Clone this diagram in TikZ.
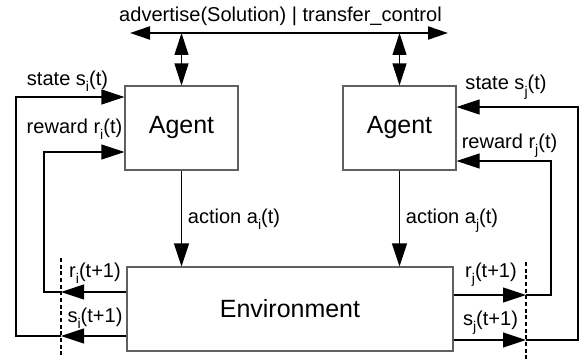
\documentclass[tikz,border=0pt]{standalone}
\usepackage{fontspec}
\setmainfont{Liberation Sans}
\usetikzlibrary{arrows.meta}
\newcommand{\ix}[1]{\raisebox{-0.32em}{\fontsize{8}{8}\selectfont #1}}
\tikzset{box/.style={draw=gray!75!black,line width=0.6pt,minimum width=22.6mm,minimum height=16.8mm,font=\fontsize{14.2}{17}\selectfont},
         envbox/.style={box,minimum width=65.2mm},
         lbl/.style={anchor=base,inner sep=0pt,font=\fontsize{11.4}{13}\selectfont},
         arr/.style={line width=0.6pt,-{Triangle[length=4.6mm,width=3mm]}},
         darr/.style={line width=0.6pt,{Triangle[length=4.4mm,width=2.8mm]}-{Triangle[length=4.4mm,width=2.8mm]}},
         bus/.style={line width=1.2pt,{Triangle[length=4mm,width=2.6mm]}-{Triangle[length=4mm,width=2.6mm]}},
         cutline/.style={line width=0.6pt,dash pattern=on 2.2pt off 1.6pt}}

\begin{document}
\begin{tikzpicture}
        \useasboundingbox (0,0) rectangle (11.64,7.24);

        \node[box](agentI)at(3.63,4.68){Agent};
        \node[box](agentJ)at(7.99,4.68){Agent};
        \node[envbox](env)at(5.8,1.06){Environment};

        \coordinate(busL)at(2.6,6.58);
        \coordinate(busR)at(8.96,6.58);
        \node[lbl](busT)at(5.61,6.8){advertise(Solution) | transfer\_control};

        \coordinate(sIcut)at(1.22,0.52);
        \coordinate(rIcut)at(1.22,1.4);
        \coordinate(sIrail)at(0.32,5.3);
        \coordinate(rIrail)at(0.88,4.2);
        \coordinate(cutIup)at(1.22,2.08);
        \coordinate(cutIdn)at(1.22,0.1);

        \coordinate(sJcut)at(10.52,0.44);
        \coordinate(rJcut)at(10.52,1.34);
        \coordinate(sJrail)at(11.56,5.1);
        \coordinate(rJrail)at(11.02,4.02);
        \coordinate(cutJup)at(10.52,2.0);
        \coordinate(cutJdn)at(10.52,0.0);

        \node[lbl](stI)at(1.35,5.54){state s\ix{i}(t)};
        \node[lbl](rwI)at(1.49,4.58){reward r\ix{i}(t)};
        \node[lbl](stJ)at(10.12,5.44){state s\ix{j}(t)};
        \node[lbl](rwJ)at(10.19,4.28){reward r\ix{j}(t)};
        \node[lbl](acI)at(4.68,2.77){action a\ix{i}(t)};
        \node[lbl](acJ)at(9.04,2.77){action a\ix{j}(t)};
        \node[lbl](rnI)at(1.9,1.7){r\ix{i}(t+1)};
        \node[lbl](snI)at(1.9,0.8){s\ix{i}(t+1)};
        \node[lbl](rnJ)at(9.82,1.7){r\ix{j}(t+1)};
        \node[lbl](snJ)at(9.81,0.74){s\ix{j}(t+1)};

        \draw[bus](busL)--(busR);
        \draw[darr](agentI.north |- busL)--(agentI.north);
        \draw[darr](agentJ.north |- busL)--(agentJ.north);

        \draw[arr](agentI.south)--(agentI.south |- env.north);
        \draw[arr](agentJ.south)--(agentJ.south |- env.north);

        \draw[arr](env.west |- rIcut)--(rIcut);
        \draw[arr](rIcut)-|(rIrail)--(rIrail -| agentI.west);
        \draw[arr](env.west |- sIcut)--(sIcut);
        \draw[arr](sIcut)-|(sIrail)--(sIrail -| agentI.west);

        \draw[arr](env.east |- rJcut)--(rJcut);
        \draw[arr](rJcut)-|(rJrail)--(rJrail -| agentJ.east);
        \draw[arr](env.east |- sJcut)--(sJcut);
        \draw[arr](sJcut)-|(sJrail)--(sJrail -| agentJ.east);

        \draw[cutline](cutIup)--(cutIdn);
        \draw[cutline](cutJup)--(cutJdn);
    \end{tikzpicture}
\end{document}
